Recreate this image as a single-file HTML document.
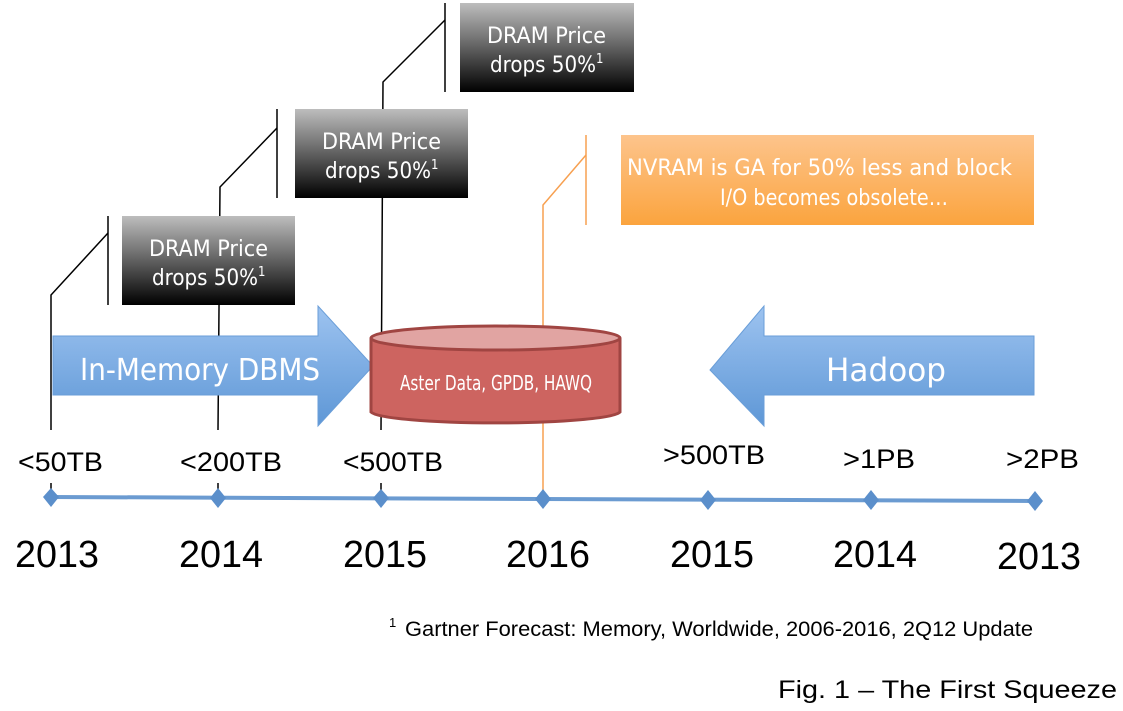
<!DOCTYPE html>
<html><head><meta charset="utf-8"><style>
html,body{margin:0;padding:0;background:#fff;width:1123px;height:711px;overflow:hidden}
svg{display:block}
.c{font-family:"DejaVu Sans Condensed","Liberation Sans Narrow","Liberation Sans",sans-serif;fill:#fff}
.a{font-family:"Liberation Sans",sans-serif;fill:#000}
</style></head><body>
<svg width="1123" height="711" viewBox="0 0 1123 711" xmlns="http://www.w3.org/2000/svg">
<defs>
<linearGradient id="g" x1="0" y1="0" x2="0" y2="1"><stop offset="0" stop-color="#bdbdbd"/><stop offset="0.45" stop-color="#6a6a6a"/><stop offset="1" stop-color="#000"/></linearGradient>
<linearGradient id="o" x1="0" y1="0" x2="0" y2="1"><stop offset="0" stop-color="#fdc48c"/><stop offset="1" stop-color="#fba43e"/></linearGradient>
<linearGradient id="b" x1="0" y1="0" x2="0" y2="1"><stop offset="0" stop-color="#9dc3f0"/><stop offset="1" stop-color="#5e97d6"/></linearGradient>
</defs>
<g stroke="#000" stroke-width="1.5" fill="none">
<polyline points="51,430 51,295 108,233"/><line x1="108" y1="216" x2="108" y2="305"/>
<polyline points="218,430 220,187 277,128"/><line x1="277" y1="109" x2="277" y2="198"/>
<polyline points="381,430 383,82 445,20"/><line x1="445" y1="3" x2="445" y2="92"/>
<line x1="51" y1="483" x2="51" y2="497"/><line x1="218" y1="483" x2="218" y2="497"/><line x1="381" y1="483" x2="381" y2="497"/>
</g>
<g stroke="#f7a050" stroke-width="1.5" fill="none">
<polyline points="543,498 543,205 586,155"/><line x1="586" y1="135" x2="586" y2="225"/>
</g>
<rect x="122" y="216" width="173" height="89" fill="url(#g)"/>
<text class="c" x="149" y="256" font-size="22" textLength="119" lengthAdjust="spacingAndGlyphs">DRAM Price</text>
<text class="c" x="152" y="285" font-size="22"><tspan textLength="106" lengthAdjust="spacingAndGlyphs">drops 50%</tspan><tspan font-size="13" dy="-9">1</tspan></text>
<rect x="295" y="109" width="173" height="89" fill="url(#g)"/>
<text class="c" x="322" y="149" font-size="22" textLength="119" lengthAdjust="spacingAndGlyphs">DRAM Price</text>
<text class="c" x="325" y="178" font-size="22"><tspan textLength="106" lengthAdjust="spacingAndGlyphs">drops 50%</tspan><tspan font-size="13" dy="-9">1</tspan></text>
<rect x="460" y="3" width="174" height="89" fill="url(#g)"/>
<text class="c" x="487" y="43" font-size="22" textLength="119" lengthAdjust="spacingAndGlyphs">DRAM Price</text>
<text class="c" x="490" y="72" font-size="22"><tspan textLength="106" lengthAdjust="spacingAndGlyphs">drops 50%</tspan><tspan font-size="13" dy="-9">1</tspan></text>
<rect x="621" y="135" width="413" height="90" fill="url(#o)"/>
<text class="c" x="627" y="175" font-size="22" textLength="385" lengthAdjust="spacingAndGlyphs">NVRAM is GA for 50% less and block</text>
<text class="c" x="720" y="205" font-size="22" textLength="228" lengthAdjust="spacingAndGlyphs">I/O becomes obsolete…</text>
<polygon points="53,336 318,336 318,306 373,366 318,426 318,395 53,395" fill="url(#b)" stroke="#6a9ed8" stroke-width="1"/>
<text class="c" x="80" y="380" font-size="30" textLength="240" lengthAdjust="spacingAndGlyphs">In-Memory DBMS</text>
<polygon points="1034,336 764,336 764,306 710,370 764,426 764,395 1034,395" fill="url(#b)" stroke="#6a9ed8" stroke-width="1"/>
<text class="c" x="826" y="381" font-size="32" textLength="120" lengthAdjust="spacingAndGlyphs">Hadoop</text>
<path d="M371,338 L371,412 A125,12 0 0 0 620,412 L620,338" fill="#cd6460" stroke="#a04542" stroke-width="3"/>
<ellipse cx="495.5" cy="338" rx="124.5" ry="12" fill="#e1a4a2" stroke="#a04542" stroke-width="3"/>
<text class="c" x="400" y="390" font-size="20" textLength="192" lengthAdjust="spacingAndGlyphs">Aster Data, GPDB, HAWQ</text>
<line x1="51" y1="497" x2="1035" y2="501" stroke="#6b9bd1" stroke-width="4"/>
<g fill="#5b8fcb">
<polygon points="51,488 59,497 51,507 43,497"/>
<polygon points="218,488 226,498 218,508 210,498"/>
<polygon points="381,489 389,498 381,508 373,498"/>
<polygon points="543,489 551,499 543,509 535,499"/>
<polygon points="708,490 716,500 708,510 700,500"/>
<polygon points="871,490 879,500 871,510 863,500"/>
<polygon points="1035,491 1043,501 1035,511 1027,501"/>
</g>
<g class="a" font-size="27">
<text x="18" y="471" textLength="85" lengthAdjust="spacingAndGlyphs">&lt;50TB</text>
<text x="180" y="471" textLength="102" lengthAdjust="spacingAndGlyphs">&lt;200TB</text>
<text x="343" y="471" textLength="100" lengthAdjust="spacingAndGlyphs">&lt;500TB</text>
<text x="663" y="464" textLength="102" lengthAdjust="spacingAndGlyphs">&gt;500TB</text>
<text x="843" y="468" textLength="72" lengthAdjust="spacingAndGlyphs">&gt;1PB</text>
<text x="1006" y="468" textLength="73" lengthAdjust="spacingAndGlyphs">&gt;2PB</text>
</g>
<g class="a" font-size="38">
<text x="15" y="567" textLength="84" lengthAdjust="spacingAndGlyphs">2013</text>
<text x="179" y="567" textLength="84" lengthAdjust="spacingAndGlyphs">2014</text>
<text x="343" y="567" textLength="84" lengthAdjust="spacingAndGlyphs">2015</text>
<text x="506" y="567" textLength="84" lengthAdjust="spacingAndGlyphs">2016</text>
<text x="670" y="567" textLength="84" lengthAdjust="spacingAndGlyphs">2015</text>
<text x="833" y="567" textLength="84" lengthAdjust="spacingAndGlyphs">2014</text>
<text x="997" y="569" textLength="84" lengthAdjust="spacingAndGlyphs">2013</text>
</g>
<text class="a" x="389" y="627" font-size="13">1</text>
<text class="a" x="405" y="636" font-size="21" textLength="628" lengthAdjust="spacingAndGlyphs">Gartner Forecast: Memory, Worldwide, 2006-2016, 2Q12 Update</text>
<text class="a" x="778" y="698" font-size="25" textLength="339" lengthAdjust="spacingAndGlyphs">Fig. 1 – The First Squeeze</text>
</svg>
</body></html>
